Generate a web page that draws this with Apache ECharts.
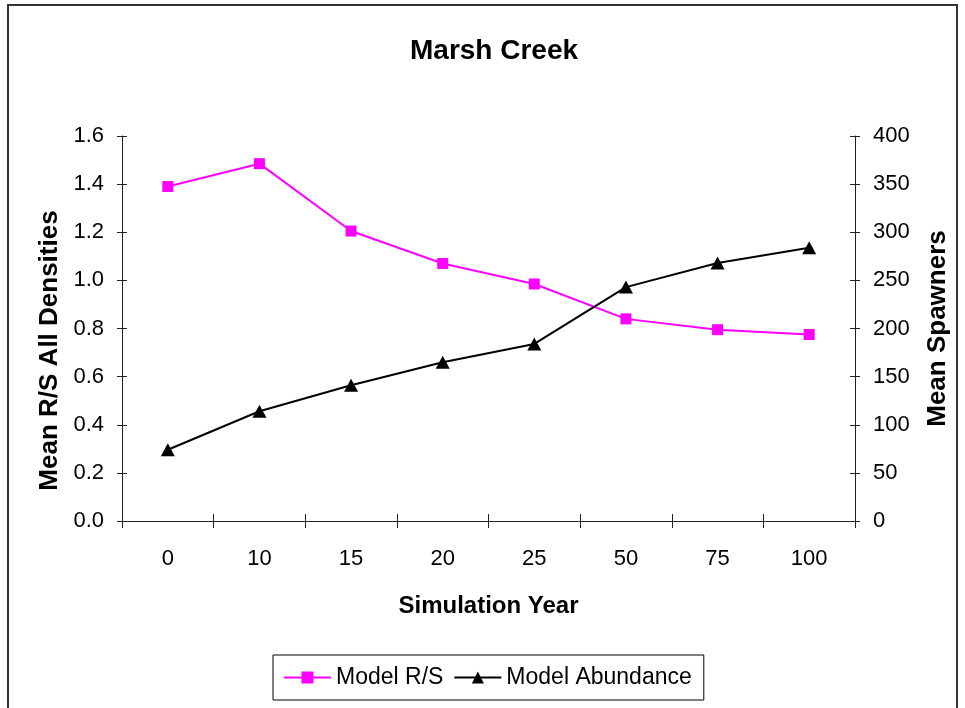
<!DOCTYPE html>
<html>
<head>
<meta charset="utf-8">
<script src="https://cdn.jsdelivr.net/npm/echarts@6/dist/echarts.min.js"></script>
<style>
  html, body { margin: 0; padding: 0; background: #fff; }
  #chart { width: 965px; height: 708px; }
</style>
</head>
<body>
<div id="chart"></div>
<script>
// simulation years (category axis)
const years = ['0', '10', '15', '20', '25', '50', '75', '100']
// mean R/S, left axis
const modelRS = [1.39, 1.485, 1.205, 1.07, 0.985, 0.84, 0.795, 0.775]
// mean spawners, right axis
const modelAbundance = [74, 114, 141, 165, 184, 243, 268, 284]

const font = "'Liberation Sans', Arial, sans-serif"
const axisColor = '#222'

const chart = echarts.init(document.getElementById('chart'))

const option = {
  animation: false,
  backgroundColor: '#fff',
  textStyle: { fontFamily: font },
  graphic: [
    {
      type: 'rect',
      shape: { x: 8, y: 5, width: 949, height: 760 },
      style: { fill: 'none', stroke: '#333', lineWidth: 2 },
      silent: true,
    },
  ],
  title: {
    text: 'Marsh Creek',
    left: 405,
    top: 32,
    textStyle: { fontSize: 28, fontWeight: 'bold', color: '#000', fontFamily: font },
  },
  legend: {
    left: 273,
    top: 655,
    padding: [11, 12, 11, 10],
    borderColor: '#000',
    borderWidth: 1,
    itemGap: 10,
    itemWidth: 47,
    itemHeight: 15,
    textStyle: { fontSize: 23, color: '#000', fontFamily: font },
    data: ['Model R/S', 'Model Abundance'],
  },
  grid: {
    left: 122,
    right: 110,
    top: 136,
    bottom: 187,
    containLabel: false,
  },
  xAxis: [
    {
      type: 'category',
      data: years,
      boundaryGap: true,
      position: 'bottom',
      axisLine: { lineStyle: { color: axisColor, width: 1 } },
      axisTick: { show: true, length: 7, lineStyle: { color: axisColor } },
      axisLabel: { margin: 27, fontSize: 22, color: '#000', fontFamily: font },
      name: 'Simulation Year',
      nameLocation: 'middle',
      nameGap: 73,
      nameTextStyle: { fontSize: 24, fontWeight: 'bold', color: '#000', fontFamily: font },
      splitLine: { show: false },
    },
    {
      type: 'category',
      data: years,
      boundaryGap: true,
      position: 'bottom',
      axisLine: { show: false },
      axisTick: { show: true, inside: true, length: 7, lineStyle: { color: axisColor } },
      axisLabel: { show: false },
      splitLine: { show: false },
    },
  ],
  yAxis: [
    {
      type: 'value',
      position: 'left',
      min: 0,
      max: 1.6,
      interval: 0.2,
      axisLine: { show: true, lineStyle: { color: axisColor, width: 1 } },
      axisTick: { show: true, length: 5, lineStyle: { color: axisColor } },
      axisLabel: {
        margin: 18,
        fontSize: 22,
        color: '#000',
        fontFamily: font,
        formatter: (v) => v.toFixed(1),
      },
      splitLine: { show: false },
      name: 'Mean R/S All Densities',
      nameLocation: 'middle',
      nameGap: 58,
      nameTextStyle: {
        fontSize: 26,
        fontWeight: 'bold',
        color: '#000',
        fontFamily: font,
        padding: [0, 44, 0, 0],
      },
    },
    {
      type: 'value',
      position: 'right',
      min: 0,
      max: 400,
      interval: 50,
      axisLine: { show: true, lineStyle: { color: axisColor, width: 1 } },
      axisTick: { show: true, length: 5, lineStyle: { color: axisColor } },
      axisLabel: { margin: 18, fontSize: 22, color: '#000', fontFamily: font },
      splitLine: { show: false },
      name: 'Mean Spawners',
      nameLocation: 'middle',
      nameGap: 70,
      nameTextStyle: { fontSize: 26, fontWeight: 'bold', color: '#000', fontFamily: font },
    },
    {
      type: 'value',
      position: 'left',
      min: 0,
      max: 1.6,
      interval: 0.2,
      axisLine: { show: false },
      axisTick: { show: true, inside: true, length: 5, lineStyle: { color: axisColor } },
      axisLabel: { show: false },
      splitLine: { show: false },
    },
    {
      type: 'value',
      position: 'right',
      min: 0,
      max: 400,
      interval: 50,
      axisLine: { show: false },
      axisTick: { show: true, inside: true, length: 5, lineStyle: { color: axisColor } },
      axisLabel: { show: false },
      splitLine: { show: false },
    },
  ],
  series: [
    {
      name: 'Model R/S',
      type: 'line',
      yAxisIndex: 0,
      data: modelRS,
      symbol: 'rect',
      symbolSize: 11,
      itemStyle: { color: '#FF00FF' },
      lineStyle: { color: '#FF00FF', width: 2 },
    },
    {
      name: 'Model Abundance',
      type: 'line',
      yAxisIndex: 1,
      data: modelAbundance,
      symbol: 'triangle',
      symbolSize: [14, 13],
      itemStyle: { color: '#000' },
      lineStyle: { color: '#000', width: 2 },
    },
  ],
}

chart.setOption(option)
</script>
</body>
</html>
